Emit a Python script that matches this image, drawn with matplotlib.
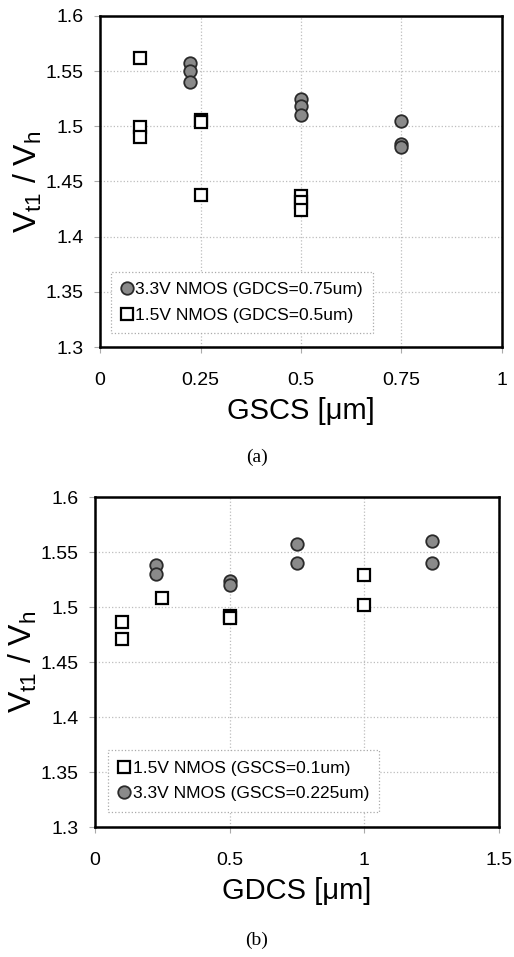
import matplotlib
matplotlib.use("Agg")
import matplotlib.pyplot as plt
from matplotlib.ticker import FuncFormatter

# (a) Vt1/Vh versus GSCS
a_hv_x = [0.225, 0.225, 0.225, 0.5, 0.5, 0.5, 0.75, 0.75, 0.75]
a_hv_y = [1.557, 1.550, 1.540, 1.525, 1.518, 1.510, 1.505, 1.484, 1.481]
a_lv_x = [0.1, 0.1, 0.1, 0.25, 0.25, 0.25, 0.5, 0.5, 0.5]
a_lv_y = [1.562, 1.499, 1.490, 1.506, 1.504, 1.438, 1.437, 1.431, 1.424]

# (b) Vt1/Vh versus GDCS
b_lv_x = [0.1, 0.1, 0.25, 0.5, 0.5, 1.0, 1.0]
b_lv_y = [1.486, 1.471, 1.508, 1.492, 1.490, 1.529, 1.502]
b_hv_x = [0.225, 0.225, 0.5, 0.5, 0.75, 0.75, 1.25, 1.25]
b_hv_y = [1.538, 1.530, 1.524, 1.520, 1.557, 1.540, 1.560, 1.540]

a_xticks = [0, 0.25, 0.5, 0.75, 1]
b_xticks = [0, 0.5, 1, 1.5]
yticks = [1.3, 1.35, 1.4, 1.45, 1.5, 1.55, 1.6]

plt.rcParams['font.family'] = ['Liberation Sans', 'DejaVu Sans']
plt.rcParams['mathtext.fontset'] = 'custom'
plt.rcParams['mathtext.rm'] = 'Liberation Sans'

circle = dict(marker='o', linestyle='none', markersize=9,
              markerfacecolor='#8a8a8a', markeredgecolor='#2a2a2a', markeredgewidth=1.3)
square = dict(marker='s', linestyle='none', markersize=9,
              markerfacecolor='white', markeredgecolor='black', markeredgewidth=1.6)


def style_axes(ax, xlim, xticks, xlabel):
    ax.set_xlim(xlim)
    ax.set_ylim(1.3, 1.6)
    ax.set_xticks(xticks)
    ax.set_yticks(yticks)
    ax.xaxis.set_major_formatter(FuncFormatter(lambda v, p: '%g' % v))
    ax.yaxis.set_major_formatter(FuncFormatter(lambda v, p: '%g' % v))
    ax.grid(True, color='#bdbdbd', linestyle=':', linewidth=0.9)
    ax.set_axisbelow(True)
    for s in ax.spines.values():
        s.set_linewidth(1.8)
        s.set_color('black')
    ax.tick_params(axis='both', labelsize=14, length=4, color='#aaaaaa', width=0.8)
    ax.tick_params(axis='x', pad=14)
    ax.tick_params(axis='y', pad=8)
    ax.set_xlabel(xlabel, fontsize=21, labelpad=6)
    ax.set_ylabel(r'V$_{\mathrm{t1}}$ / V$_{\mathrm{h}}$', fontsize=23, labelpad=1)


def make_legend(ax, anchor):
    leg = ax.legend(loc='lower left', bbox_to_anchor=anchor, borderaxespad=0,
                    fontsize=12.5, handlelength=0.6, handletextpad=0.2,
                    labelspacing=0.6, borderpad=0.6, fancybox=False, framealpha=1)
    fr = leg.get_frame()
    fr.set_edgecolor('#aaaaaa')
    fr.set_linestyle(':')
    fr.set_linewidth(0.9)


fig = plt.figure(figsize=(5.14, 9.57), dpi=100)

ax1 = fig.add_axes([0.1946, 0.6374, 0.782, 0.3459])
ax1.plot(a_hv_x, a_hv_y, label='3.3V NMOS (GDCS=0.75um)', **circle)
ax1.plot(a_lv_x, a_lv_y, label='1.5V NMOS (GDCS=0.5um)', **square)
style_axes(ax1, (0, 1), a_xticks, 'GSCS [\u03bcm]')
make_legend(ax1, (0.027, 0.042))

ax2 = fig.add_axes([0.1848, 0.1358, 0.786, 0.3448])
ax2.plot(b_lv_x, b_lv_y, label='1.5V NMOS (GSCS=0.1um)', **square)
ax2.plot(b_hv_x, b_hv_y, label='3.3V NMOS (GSCS=0.225um)', **circle)
style_axes(ax2, (0, 1.5), b_xticks, 'GDCS [\u03bcm]')
make_legend(ax2, (0.033, 0.046))

fig.text(0.5, 1 - 457 / 957, '(a)', ha='center', va='center',
         fontsize=14, family='Liberation Serif')
fig.text(0.5, 1 - 940 / 957, '(b)', ha='center', va='center',
         fontsize=14, family='Liberation Serif')

fig.savefig('out.png', dpi=100)
